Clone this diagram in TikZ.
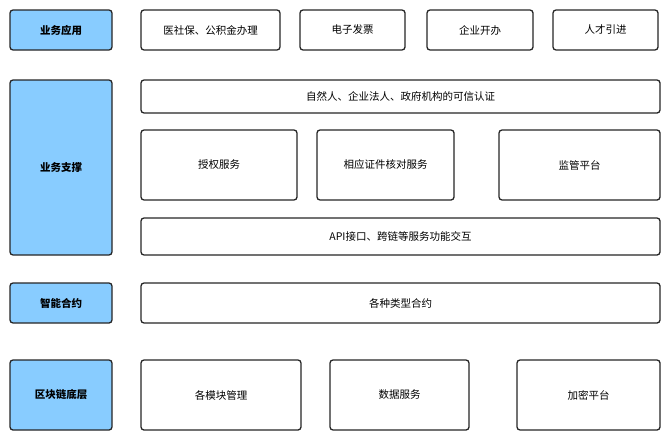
\documentclass[tikz,border=0pt]{standalone}
\usepackage{fontspec}
\setmainfont{Noto Sans CJK SC}
\begin{document}
\begin{tikzpicture}[x=1pt,y=-1pt,
  box/.style={draw=black!85,line width=1.3pt,rounded corners=3pt,fill=white,font=\fontsize{10.5}{12}\selectfont},
  lab/.style={box,fill={rgb,255:red,136;green,204;blue,255},font=\fontsize{10.5}{12}\selectfont\bfseries}]
\useasboundingbox (0,0) rectangle (667,439);
\newcommand\bx[6]{\draw[#1] (#2,#3) rectangle (#4,#5); \node[font=\fontsize{10.5}{12}\selectfont] at ({(#2+#4)/2},{(#3+#5)/2}) {#6};}
\draw[lab] (10,10) rectangle (112,50) node[midway] (a1) {\bfseries 业务应用};
\draw[lab] (10,80) rectangle (112,255) node[midway] (a2) {\bfseries 业务支撑};
\draw[lab] (10,283) rectangle (112,323) node[midway] (a3) {\bfseries 智能合约};
\draw[lab] (10,360) rectangle (112,430) node[midway] (a4) {\bfseries 区块链底层};
\draw[box] (141,10) rectangle (280,50) node[midway] (b1) {医社保、公积金办理};
\draw[box] (300,10) rectangle (405,50) node[midway] (b2) {电子发票};
\draw[box] (427,10) rectangle (533,50) node[midway] (b3) {企业开办};
\draw[box] (553,10) rectangle (658,50) node[midway] (b4) {人才引进};
\draw[box] (141,80) rectangle (660,113) node[midway] (c1) {自然人、企业法人、政府机构的可信认证};
\draw[box] (141,130) rectangle (297,200) node[midway] (c2) {授权服务};
\draw[box] (317,130) rectangle (454,200) node[midway] (c3) {相应证件核对服务};
\draw[box] (499,130) rectangle (660,200) node[midway] (c4) {监管平台};
\draw[box] (141,218) rectangle (660,255) node[midway] (c5) {API接口、跨链等服务功能交互};
\draw[box] (141,283) rectangle (660,323) node[midway] (d1) {各种类型合约};
\draw[box] (141,360) rectangle (301,430) node[midway] (e1) {各模块管理};
\draw[box] (330,360) rectangle (469,430) node[midway] (e2) {数据服务};
\draw[box] (517,360) rectangle (660,430) node[midway] (e3) {加密平台};
\end{tikzpicture}
\end{document}
